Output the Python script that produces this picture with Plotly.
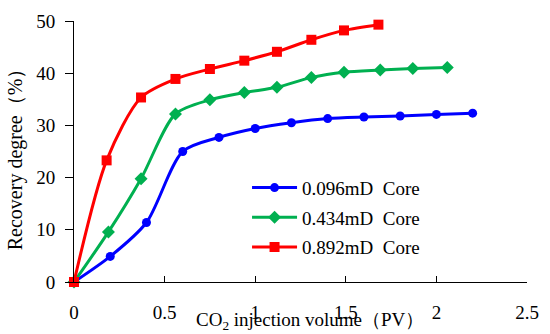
import plotly.graph_objects as go

blue_x = [0, 0.2, 0.4, 0.6, 0.8, 1.0, 1.2, 1.4, 1.6, 1.8, 2.0, 2.2]
blue_y = [0, 4.9, 11.4, 25.0, 27.7, 29.4, 30.5, 31.3, 31.6, 31.8, 32.1, 32.35]
green_x = [0, 0.19, 0.37, 0.56, 0.75, 0.94, 1.12, 1.31, 1.49, 1.69, 1.87, 2.06]
green_y = [0, 9.6, 19.8, 32.2, 34.9, 36.3, 37.3, 39.2, 40.2, 40.6, 40.9, 41.1]
red_x = [0, 0.18, 0.37, 0.56, 0.75, 0.94, 1.12, 1.31, 1.49, 1.68]
red_y = [0, 23.3, 35.35, 38.9, 40.8, 42.4, 44.1, 46.4, 48.2, 49.3]

names = ["0.096mD  Core", "0.434mD  Core", "0.892mD  Core"]
colors = ["#0000FF", "#00B050", "#FF0000"]
symbols = ["circle", "diamond", "square"]
sizes = [9, 10, 10]

fig = go.Figure()
for i, (xs, ys) in enumerate([(blue_x, blue_y), (green_x, green_y), (red_x, red_y)]):
    fig.add_trace(go.Scatter(
        x=xs, y=ys, name=names[i], mode="lines+markers",
        line=dict(color=colors[i], width=3, shape="spline", smoothing=0.8),
        marker=dict(color=colors[i], symbol=symbols[i], size=sizes[i]),
        cliponaxis=False, legendgroup=str(i),
    ))

font = "Liberation Serif, Times New Roman, serif"
fig.update_layout(
    width=550, height=334,
    margin=dict(l=74, r=15, t=11, b=51),
    paper_bgcolor="white", plot_bgcolor="white",
    font=dict(family=font, size=19, color="black"),
    showlegend=True,
    legend=dict(x=0.382, y=0.434, xanchor="left", yanchor="top",
                font=dict(size=19, family=font), tracegroupgap=2,
                itemwidth=45, bgcolor="rgba(0,0,0,0)"),
    xaxis=dict(range=[0, 2.5], tickvals=[0, 0.5, 1, 1.5, 2, 2.5],
               ticktext=["0", "0.5", "1", "1.5", "2", "2.5"],
               showgrid=False, zeroline=False, showline=True, linecolor="black",
               linewidth=1, ticks="inside", ticklen=6, tickcolor="black",
               tickfont=dict(size=19), ticklabelstandoff=13),
    yaxis=dict(range=[0, 50], tickvals=[0, 10, 20, 30, 40, 50],
               showgrid=False, zeroline=False, showline=True, linecolor="black",
               linewidth=1, ticks="outside", ticklen=8, tickcolor="black",
               tickfont=dict(size=19), ticklabelstandoff=6),
    annotations=[
        dict(text="CO<sub>2</sub> injection volume（PV）", xref="paper", yref="paper",
             x=0.521, y=-0.15, xanchor="center", yanchor="middle", showarrow=False,
             font=dict(size=19, family=font)),
        dict(text="Recovery degree（%）", xref="paper", yref="paper",
             x=-0.13, y=0.49, xanchor="center", yanchor="middle", showarrow=False,
             textangle=-90, font=dict(size=20, family=font)),
    ],
)
fig.write_html("out.html", post_script="document.body.style.margin='0';",
               config={"displayModeBar": False})
